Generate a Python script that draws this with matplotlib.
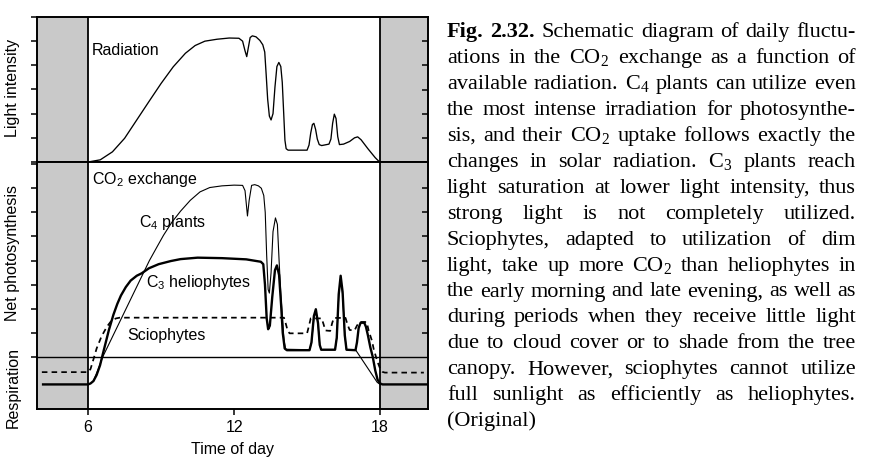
import matplotlib
matplotlib.use("Agg")
import matplotlib.pyplot as plt

plt.rcParams['font.family'] = ['Liberation Sans', 'DejaVu Sans']
plt.rcParams['mathtext.fontset'] = 'custom'
plt.rcParams['mathtext.rm'] = 'Liberation Serif'
plt.rcParams['mathtext.it'] = 'Liberation Serif:italic'
plt.rcParams['mathtext.bf'] = 'Liberation Serif:bold'
plt.rcParams['mathtext.sf'] = 'Liberation Sans'

# ---------------- data ----------------
x_range = (3.9, 19.97)
night_end, night_start = 6, 18

rad_hour = [6.0, 6.5, 7.0, 7.5, 8.0, 8.5, 9.0, 9.5, 10.0, 10.4, 10.8, 11.3, 11.8, 12.2,
            12.35, 12.45, 12.52, 12.58, 12.66, 12.75, 12.9, 13.06, 13.18, 13.26, 13.32,
            13.38, 13.45, 13.52, 13.6, 13.68, 13.76, 13.84, 13.92, 13.98, 14.04, 14.09,
            14.14, 14.22, 15.0, 15.08, 15.15, 15.22, 15.28, 15.35, 15.42, 15.5, 15.6,
            15.9, 15.98, 16.05, 16.12, 16.19, 16.26, 16.33, 16.5, 16.75, 16.95, 17.08,
            17.22, 17.5, 17.8, 17.96, 18.0]
rad_value = [0.0, 0.09, 0.42, 0.98, 1.74, 2.5, 3.25, 3.94, 4.5, 4.82, 5.0, 5.08, 5.13, 5.12,
             5.0, 4.6, 4.36, 4.7, 5.15, 5.22, 5.18, 5.03, 4.85, 4.55, 3.6,
             2.6, 1.9, 1.74, 2.0, 3.1, 3.95, 4.12, 3.95, 3.3, 2.0, 0.9,
             0.55, 0.49, 0.49, 0.7, 1.2, 1.55, 1.6, 1.35, 0.95, 0.72, 0.68,
             0.74, 0.95, 1.6, 1.98, 1.8, 1.05, 0.72, 0.74, 0.85, 1.0, 1.04,
             0.92, 0.55, 0.18, 0.02, 0.0]

c3_hour = [4.15, 6.0, 6.1, 6.22, 6.35, 6.49, 6.6, 6.7, 6.85, 7.04, 7.2, 7.35, 7.55, 7.75,
           8.0, 8.2, 8.5, 8.9, 9.4, 9.8, 10.5, 11.5, 12.5, 13.1, 13.2, 13.27, 13.34,
           13.4, 13.47, 13.57, 13.68, 13.76, 13.85, 13.93, 14.0, 14.08, 14.17, 15.1,
           15.18, 15.28, 15.36, 15.45, 15.52, 15.58, 16.15, 16.22, 16.3, 16.38, 16.46,
           16.55, 16.62, 16.99, 17.05, 17.12, 17.2, 17.35, 17.42, 17.5, 17.6, 17.7,
           17.8, 17.9, 18.0, 18.1, 19.97]
c3_value = [-1.14, -1.14, -1.1, -1.0, -0.75, -0.35, 0.1, 0.5, 1.1, 1.75, 2.2, 2.55, 2.9, 3.17,
            3.37, 3.47, 3.68, 3.85, 3.98, 4.06, 4.12, 4.1, 4.05, 3.95, 3.85, 3.0, 1.6,
            1.15, 1.3, 2.5, 3.6, 3.8, 3.4, 2.2, 1.0, 0.35, 0.28, 0.28,
            0.6, 1.7, 1.98, 1.4, 0.5, 0.3, 0.3, 0.8, 2.6, 3.37, 2.7,
            0.9, 0.3, 0.28, 0.6, 1.2, 1.42, 1.42, 1.25, 0.9, 0.4, 0.0,
            -0.55, -0.95, -1.1, -1.14, -1.14]

c4_hour = [6.22, 6.4, 6.6, 7.08, 7.56, 8.04, 8.52, 8.85, 9.1, 9.45, 9.8, 10.2, 10.6, 11.0,
           11.5, 12.0, 12.35, 12.45, 12.55, 12.62, 12.72, 12.85, 13.0, 13.12, 13.22,
           13.28, 13.34, 13.4, 13.45, 13.52, 13.6, 13.7, 13.78, 13.85, 13.92, 13.97,
           14.05, 14.12, 15.1, 15.18, 15.28, 15.36, 15.45, 15.52, 15.58, 16.15, 16.22,
           16.3, 16.38, 16.46, 16.55, 16.62, 16.99, 17.88, 18.0]
c4_value = [-1.0, -0.55, 0.0, 1.0, 2.0, 3.0, 4.0, 4.6, 5.05, 5.6, 6.05, 6.5, 6.85, 7.03,
            7.1, 7.13, 7.12, 6.9, 5.85, 6.5, 7.12, 7.15, 7.1, 7.0, 6.7,
            6.0, 4.2, 2.8, 2.65, 3.5, 5.2, 5.77, 5.5, 4.0, 2.6, 1.9,
            0.7, 0.32, 0.3, 0.58, 1.6, 1.88, 1.35, 0.5, 0.3, 0.3, 0.78,
            2.5, 3.25, 2.6, 0.9, 0.3, 0.3, -1.05, -1.14]

scio_hour = [4.1, 6.0, 6.1, 6.22, 6.35, 6.55, 6.77, 6.97, 7.15, 7.3, 14.05, 14.12, 14.2,
             14.28, 15.0, 15.08, 15.15, 15.6, 15.68, 15.75, 15.95, 16.03, 16.1, 16.58,
             16.66, 16.75, 16.95, 17.05, 17.15, 17.45, 17.53, 17.67, 17.74, 17.88, 18.0,
             18.1, 18.2, 19.8]
scio_value = [-0.63, -0.63, -0.5, -0.1, 0.35, 0.85, 1.25, 1.52, 1.6, 1.63, 1.63, 1.4, 1.1,
              0.98, 0.98, 1.3, 1.6, 1.6, 1.35, 1.1, 1.08, 1.4, 1.62, 1.62,
              1.35, 1.12, 1.1, 1.3, 1.45, 1.45, 1.1, 0.66, 0.32, -0.16, -0.48,
              -0.62, -0.65, -0.65]

time_ticks = [6, 12, 18]
light_ticks_left = [0, 1, 2, 3, 4, 5, 6]
light_ticks_right = [1, 2, 3, 4, 5]
net_ticks_left = [0, 1, 2, 3, 4, 5, 6, 7, 8]
net_ticks_right = [1, 2, 3, 4, 5, 6, 7]

caption_lines = [
    "Fig. 2.32. Schematic diagram of daily fluctu-",
    "ations in the CO$_2$ exchange as a function of",
    "available radiation. C$_4$ plants can utilize even",
    "the most intense irradiation for photosynthe-",
    "sis, and their CO$_2$ uptake follows exactly the",
    "changes in solar radiation. C$_3$ plants reach",
    "light saturation at lower light intensity, thus",
    "strong light is not completely utilized.",
    "Sciophytes, adapted to utilization of dim",
    "light, take up more CO$_2$ than heliophytes in",
    "the early morning and late evening, as well as",
    "during periods when they receive little light",
    "due to cloud cover or to shade from the tree",
    "canopy. However, sciophytes cannot utilize",
    "full sunlight as efficiently as heliophytes.",
    "(Original)",
]
bold_words = ["Fig.", "2.32."]

# ---------------- figure ----------------
W, H = 881, 469
fig = plt.figure(figsize=(W / 100, H / 100), dpi=100)

left, right = 37, 428
top, mid, bottom = 17, 162, 409
ax_top = fig.add_axes([left / W, 1 - mid / H, (right - left) / W, (mid - top) / H])
ax_bot = fig.add_axes([left / W, 1 - bottom / H, (right - left) / W, (bottom - mid) / H])

gray = '#c9c9c9'
frame_lw = 1.4
fs = 11.5

for ax in (ax_top, ax_bot):
    ax.set_xlim(*x_range)
    ax.axvspan(x_range[0], night_end, color=gray, lw=0, zorder=0)
    ax.axvspan(night_start, x_range[1], color=gray, lw=0, zorder=0)
    ax.axvline(night_end, color='black', lw=1.3, zorder=3)
    ax.axvline(night_start, color='black', lw=1.3, zorder=3)
    for s in ax.spines.values():
        s.set_linewidth(frame_lw)
    ax.tick_params(axis='y', which='both', direction='out', length=4, width=1.1,
                   labelleft=False, right=False)

ax_top.set_ylim(0, 6)
ax_top.set_yticks(light_ticks_left)
ax_top.tick_params(axis='x', bottom=False, labelbottom=False)
ax_top.plot(rad_hour, rad_value, color='black', lw=0.95, zorder=4)

ax_bot.set_ylim(-2.16, 8.09)
ax_bot.set_yticks(net_ticks_left)
ax_bot.set_xticks(time_ticks)
ax_bot.set_xticklabels([str(t) for t in time_ticks], fontsize=fs)
ax_bot.tick_params(axis='x', direction='out', length=4, width=1.1, pad=4)
ax_bot.axhline(0, color='black', lw=1.0, zorder=3)
ax_bot.plot(c3_hour, c3_value, color='black', lw=1.7, zorder=4, solid_joinstyle='round')
ax_bot.plot(c4_hour, c4_value, color='black', lw=0.8, zorder=5)
ax_bot.plot(scio_hour, scio_value, color='black', lw=1.25, ls=(0, (3.2, 2.4)), zorder=5)
ax_bot.set_xlabel('Time of day', fontsize=fs, labelpad=5)

# inward ticks on the right-hand frame
for ax, ticks in ((ax_top, light_ticks_right), (ax_bot, net_ticks_right)):
    tw = ax.twinx()
    tw.set_ylim(ax.get_ylim())
    tw.set_yticks(ticks)
    tw.tick_params(axis='y', direction='in', length=4, width=1.1, labelright=False)
    for s in tw.spines.values():
        s.set_visible(False)

# curve labels
ax_top.text(6.16, 4.6, 'Radiation', fontsize=fs, va='center', ha='left')
ax_bot.text(6.16, 7.37, r'CO$_\mathsf{2}$ exchange', fontsize=fs, va='center', ha='left')
ax_bot.text(8.1, 5.56, r'C$_\mathsf{4}$ plants', fontsize=fs, va='center', ha='left')
ax_bot.text(8.39, 3.09, r'C$_\mathsf{3}$ heliophytes', fontsize=fs, va='center', ha='left')
ax_bot.text(7.6, 0.9, 'Sciophytes', fontsize=fs, va='center', ha='left')

# axis titles
fig.text(13 / W, 1 - 88 / H, 'Light intensity', rotation=90, fontsize=fs,
         ha='center', va='center')
fig.text(13 / W, 1 - 253 / H, 'Net photosynthesis', rotation=90, fontsize=fs,
         ha='center', va='center')
fig.text(13 / W, 1 - 387 / H, 'Respiration', rotation=90, fontsize=fs,
         ha='center', va='center')

# justified caption block
cap_x0, cap_x1 = 447, 856
cap_base0, cap_step = 37, 25.95
cap_fs = 16
serif = ['Liberation Serif', 'DejaVu Serif']
fig.canvas.draw()
renderer = fig.canvas.get_renderer()
for i, line in enumerate(caption_lines):
    words = line.split(' ')
    y = 1 - (cap_base0 + i * cap_step) / H
    texts = []
    for j, w in enumerate(words):
        weight = 'bold' if (i == 0 and w in bold_words and j < 2) else 'normal'
        texts.append(fig.text(0, y, w, family=serif, fontsize=cap_fs,
                              fontweight=weight, va='baseline', ha='left'))
    widths = [t.get_window_extent(renderer).width for t in texts]
    if i < len(caption_lines) - 1 and len(words) > 1:
        gap = (cap_x1 - cap_x0 - sum(widths)) / (len(words) - 1)
    else:
        gap = 0.25 * cap_fs * 100 / 72
    x = cap_x0
    for t, w in zip(texts, widths):
        t.set_x(x / W)
        x += w + gap

fig.savefig('out.png', dpi=100)
